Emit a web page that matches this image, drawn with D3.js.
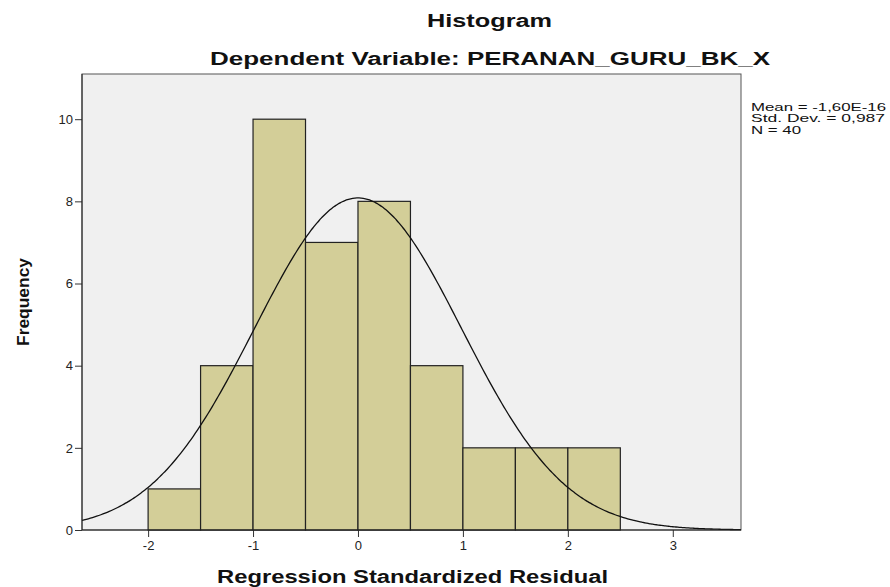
<!DOCTYPE html>
<html>
<head>
<meta charset="utf-8">
<script src="https://cdn.jsdelivr.net/npm/d3@7"></script>
<style>
  body { margin: 0; background: #fff; }
  text { font-family: "Liberation Sans", Arial, sans-serif; }
</style>
</head>
<body>
<svg id="chart" width="890" height="587"></svg>
<script>
// histogram bins (lower edge) and counts
const binStarts = [-2, -1.5, -1, -0.5, 0, 0.5, 1, 1.5, 2];
const binWidth = 0.5;
const counts = [1, 4, 10, 7, 8, 4, 2, 2, 2];
const xTicks = [-2, -1, 0, 1, 2, 3];
const yTicks = [0, 2, 4, 6, 8, 10];
const statsLines = ["Mean = -1,60E-16", "Std. Dev. = 0,987", "N = 40"];
const statsWidths = [135, 134, 50];
const mean = -1.6e-16, sd = 0.987, n = 40;

const svg = d3.select("#chart");
const plotL = 82, plotR = 741, plotT = 74, plotB = 530;

const x = d3.scaleLinear().domain([-2.63, 3.65]).range([plotL, plotR]);
const y = d3.scaleLinear().domain([0, 11.1]).range([plotB, plotT]);

// plot background
svg.append("rect")
    .attr("x", plotL).attr("y", plotT)
    .attr("width", plotR - plotL).attr("height", plotB - plotT)
    .style("fill", "#f0f0f0")
    .style("stroke", "#555").style("stroke-width", 1);

const bins = binStarts.map((s, i) => ({x0: s, x1: s + binWidth, count: counts[i]}));

svg.selectAll("rect.bar")
    .data(bins)
    .join("rect")
    .attr("class", "bar")
    .attr("x", d => x(d.x0))
    .attr("width", d => x(d.x1) - x(d.x0))
    .attr("y", d => y(d.count))
    .attr("height", d => y(0) - y(d.count))
    .style("fill", "#d3ce98")
    .style("stroke", "#222")
    .style("stroke-width", 1.2);

// normal curve from the stated mean / std. dev.
const xs = d3.range(-2.63, 3.651, 0.02);
const curve = xs.map(v => [v, n * binWidth * Math.exp(-0.5 * ((v - mean) / sd) ** 2) / (sd * Math.sqrt(2 * Math.PI))]);
svg.append("path")
    .datum(curve)
    .attr("d", d3.line().x(d => x(d[0])).y(d => y(d[1])).curve(d3.curveBasis))
    .style("fill", "none")
    .style("stroke", "#111")
    .style("stroke-width", 1.3);

// axes
const fmt = d => String(d);
const xAxis = svg.append("g")
    .attr("transform", `translate(0,${plotB})`)
    .call(d3.axisBottom(x).tickValues(xTicks).tickSize(7).tickPadding(4).tickFormat(fmt));
const yAxis = svg.append("g")
    .attr("transform", `translate(${plotL},0)`)
    .call(d3.axisLeft(y).tickValues(yTicks).tickSize(7).tickPadding(2).tickFormat(fmt));
[xAxis, yAxis].forEach(a => {
    a.select(".domain").remove();
    a.selectAll("line").style("stroke", "#333");
    a.selectAll("text").style("font-size", "13px").style("fill", "#222")
        .style("font-family", "'Liberation Sans', Arial, sans-serif");
});
svg.append("line")
    .attr("x1", plotL).attr("x2", plotR).attr("y1", plotB).attr("y2", plotB)
    .style("stroke", "#222");
svg.append("line")
    .attr("x1", plotL).attr("x2", plotL).attr("y1", plotT).attr("y2", plotB)
    .style("stroke", "#222");

// titles (stretched to match the wide original lettering)
function title(txt, xPos, yPos, len, size) {
    return svg.append("text").attr("x", xPos).attr("y", yPos)
        .attr("text-anchor", "middle")
        .attr("textLength", len).attr("lengthAdjust", "spacingAndGlyphs")
        .style("font-size", size + "px").style("font-weight", "bold")
        .style("fill", "#111")
        .text(txt);
}
title("Histogram", 489.5, 27, 125, 18);
title("Dependent Variable: PERANAN_GURU_BK_X", 490, 65, 560, 18);
title("Regression Standardized Residual", 412.5, 583, 391, 18);
svg.append("text")
    .attr("transform", "translate(29,302) rotate(-90)")
    .attr("text-anchor", "middle")
    .attr("textLength", 88).attr("lengthAdjust", "spacingAndGlyphs")
    .style("font-size", "17px").style("font-weight", "bold")
    .style("fill", "#111")
    .text("Frequency");

// stats box
svg.selectAll("text.stat")
    .data(statsLines)
    .join("text")
    .attr("class", "stat")
    .attr("x", 751)
    .attr("y", (d, i) => 110.5 + i * 11.8)
    .attr("textLength", (d, i) => statsWidths[i])
    .attr("lengthAdjust", "spacingAndGlyphs")
    .style("font-size", "11.5px")
    .style("fill", "#111")
    .text(d => d);
</script>
</body>
</html>
